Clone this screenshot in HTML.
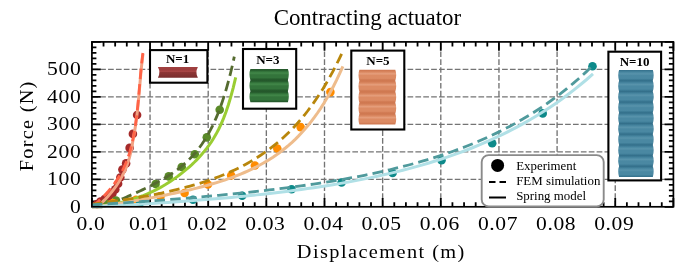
<!DOCTYPE html><html><head><meta charset="utf-8"><style>html,body{margin:0;padding:0;background:#fff}svg{display:block}</style></head><body>
<svg width="685" height="280" viewBox="0 0 685 280">
<rect width="685" height="280" fill="#fff"/>
<defs>
<linearGradient id="g1" x1="0" y1="0" x2="0" y2="1"><stop offset="0" stop-color="#a04040"/><stop offset="0.3" stop-color="#9c3c3c"/><stop offset="0.4" stop-color="#b04a4a"/><stop offset="0.5" stop-color="#8e3636"/><stop offset="1" stop-color="#7a2e2e"/></linearGradient>
<linearGradient id="g3" gradientUnits="userSpaceOnUse" x1="0" y1="69.1" x2="0" y2="80.167" spreadMethod="repeat"><stop offset="0" stop-color="#24572b"/><stop offset="0.1" stop-color="#265c2d"/><stop offset="0.22" stop-color="#33743b"/><stop offset="0.36" stop-color="#428849"/><stop offset="0.52" stop-color="#33743b"/><stop offset="0.78" stop-color="#33743b"/><stop offset="0.9" stop-color="#265c2d"/><stop offset="1" stop-color="#24572b"/></linearGradient>
<linearGradient id="g5" gradientUnits="userSpaceOnUse" x1="0" y1="69.8" x2="0" y2="80.760" spreadMethod="repeat"><stop offset="0" stop-color="#cf7850"/><stop offset="0.1" stop-color="#d27c55"/><stop offset="0.22" stop-color="#dc8b64"/><stop offset="0.36" stop-color="#e59e7c"/><stop offset="0.52" stop-color="#dc8b64"/><stop offset="0.78" stop-color="#dc8b64"/><stop offset="0.9" stop-color="#d27c55"/><stop offset="1" stop-color="#cf7850"/></linearGradient>
<linearGradient id="g10" gradientUnits="userSpaceOnUse" x1="0" y1="70" x2="0" y2="80.700" spreadMethod="repeat"><stop offset="0" stop-color="#336f8a"/><stop offset="0.1" stop-color="#3c7a95"/><stop offset="0.22" stop-color="#4a88a2"/><stop offset="0.36" stop-color="#5893ab"/><stop offset="0.52" stop-color="#4a88a2"/><stop offset="0.78" stop-color="#4a88a2"/><stop offset="0.9" stop-color="#3c7a95"/><stop offset="1" stop-color="#336f8a"/></linearGradient>
</defs>
<path d="M150.05,206.80 V41.9 M208.20,206.80 V41.9 M266.35,206.80 V41.9 M324.50,206.80 V41.9 M382.65,206.80 V41.9 M440.80,206.80 V41.9 M498.95,206.80 V41.9 M557.10,206.80 V41.9 M615.25,206.80 V41.9 M92.30,179.32 H673.4 M92.30,151.83 H673.4 M92.30,124.35 H673.4 M92.30,96.87 H673.4 M92.30,69.38 H673.4" stroke="#747474" stroke-width="1.35" stroke-dasharray="5.7 2.18" fill="none"/>
<path d="M91.90,206.80 v-8.8 M91.90,41.9 v8.8 M103.53,206.80 v-4.5 M103.53,41.9 v4.5 M115.16,206.80 v-4.5 M115.16,41.9 v4.5 M126.79,206.80 v-4.5 M126.79,41.9 v4.5 M138.42,206.80 v-4.5 M138.42,41.9 v4.5 M150.05,206.80 v-8.8 M150.05,41.9 v8.8 M161.68,206.80 v-4.5 M161.68,41.9 v4.5 M173.31,206.80 v-4.5 M173.31,41.9 v4.5 M184.94,206.80 v-4.5 M184.94,41.9 v4.5 M196.57,206.80 v-4.5 M196.57,41.9 v4.5 M208.20,206.80 v-8.8 M208.20,41.9 v8.8 M219.83,206.80 v-4.5 M219.83,41.9 v4.5 M231.46,206.80 v-4.5 M231.46,41.9 v4.5 M243.09,206.80 v-4.5 M243.09,41.9 v4.5 M254.72,206.80 v-4.5 M254.72,41.9 v4.5 M266.35,206.80 v-8.8 M266.35,41.9 v8.8 M277.98,206.80 v-4.5 M277.98,41.9 v4.5 M289.61,206.80 v-4.5 M289.61,41.9 v4.5 M301.24,206.80 v-4.5 M301.24,41.9 v4.5 M312.87,206.80 v-4.5 M312.87,41.9 v4.5 M324.50,206.80 v-8.8 M324.50,41.9 v8.8 M336.13,206.80 v-4.5 M336.13,41.9 v4.5 M347.76,206.80 v-4.5 M347.76,41.9 v4.5 M359.39,206.80 v-4.5 M359.39,41.9 v4.5 M371.02,206.80 v-4.5 M371.02,41.9 v4.5 M382.65,206.80 v-8.8 M382.65,41.9 v8.8 M394.28,206.80 v-4.5 M394.28,41.9 v4.5 M405.91,206.80 v-4.5 M405.91,41.9 v4.5 M417.54,206.80 v-4.5 M417.54,41.9 v4.5 M429.17,206.80 v-4.5 M429.17,41.9 v4.5 M440.80,206.80 v-8.8 M440.80,41.9 v8.8 M452.43,206.80 v-4.5 M452.43,41.9 v4.5 M464.06,206.80 v-4.5 M464.06,41.9 v4.5 M475.69,206.80 v-4.5 M475.69,41.9 v4.5 M487.32,206.80 v-4.5 M487.32,41.9 v4.5 M498.95,206.80 v-8.8 M498.95,41.9 v8.8 M510.58,206.80 v-4.5 M510.58,41.9 v4.5 M522.21,206.80 v-4.5 M522.21,41.9 v4.5 M533.84,206.80 v-4.5 M533.84,41.9 v4.5 M545.47,206.80 v-4.5 M545.47,41.9 v4.5 M557.10,206.80 v-8.8 M557.10,41.9 v8.8 M568.73,206.80 v-4.5 M568.73,41.9 v4.5 M580.36,206.80 v-4.5 M580.36,41.9 v4.5 M591.99,206.80 v-4.5 M591.99,41.9 v4.5 M603.62,206.80 v-4.5 M603.62,41.9 v4.5 M615.25,206.80 v-8.8 M615.25,41.9 v8.8 M626.88,206.80 v-4.5 M626.88,41.9 v4.5 M638.51,206.80 v-4.5 M638.51,41.9 v4.5 M650.14,206.80 v-4.5 M650.14,41.9 v4.5 M661.77,206.80 v-4.5 M661.77,41.9 v4.5 M673.40,206.80 v-8.8 M673.40,41.9 v8.8 M91.90,206.80 h8.8 M673.4,206.80 h-8.8 M91.90,201.30 h4.5 M673.4,201.30 h-4.5 M91.90,195.81 h4.5 M673.4,195.81 h-4.5 M91.90,190.31 h4.5 M673.4,190.31 h-4.5 M91.90,184.81 h4.5 M673.4,184.81 h-4.5 M91.90,179.32 h8.8 M673.4,179.32 h-8.8 M91.90,173.82 h4.5 M673.4,173.82 h-4.5 M91.90,168.32 h4.5 M673.4,168.32 h-4.5 M91.90,162.83 h4.5 M673.4,162.83 h-4.5 M91.90,157.33 h4.5 M673.4,157.33 h-4.5 M91.90,151.83 h8.8 M673.4,151.83 h-8.8 M91.90,146.34 h4.5 M673.4,146.34 h-4.5 M91.90,140.84 h4.5 M673.4,140.84 h-4.5 M91.90,135.34 h4.5 M673.4,135.34 h-4.5 M91.90,129.85 h4.5 M673.4,129.85 h-4.5 M91.90,124.35 h8.8 M673.4,124.35 h-8.8 M91.90,118.85 h4.5 M673.4,118.85 h-4.5 M91.90,113.36 h4.5 M673.4,113.36 h-4.5 M91.90,107.86 h4.5 M673.4,107.86 h-4.5 M91.90,102.36 h4.5 M673.4,102.36 h-4.5 M91.90,96.87 h8.8 M673.4,96.87 h-8.8 M91.90,91.37 h4.5 M673.4,91.37 h-4.5 M91.90,85.87 h4.5 M673.4,85.87 h-4.5 M91.90,80.38 h4.5 M673.4,80.38 h-4.5 M91.90,74.88 h4.5 M673.4,74.88 h-4.5 M91.90,69.38 h8.8 M673.4,69.38 h-8.8 M91.90,63.89 h4.5 M673.4,63.89 h-4.5 M91.90,58.39 h4.5 M673.4,58.39 h-4.5 M91.90,52.90 h4.5 M673.4,52.90 h-4.5 M91.90,47.40 h4.5 M673.4,47.40 h-4.5 M91.90,41.90 h8.8 M673.4,41.90 h-8.8" stroke="#000" stroke-width="1.8" fill="none"/>
<circle cx="137.1" cy="115" r="4.3" fill="#a52a2a"/>
<circle cx="132.9" cy="133.9" r="4.3" fill="#a52a2a"/>
<circle cx="129.6" cy="147.9" r="4.3" fill="#a52a2a"/>
<circle cx="126.1" cy="163.4" r="4.3" fill="#a52a2a"/>
<circle cx="122.4" cy="169.6" r="4.3" fill="#a52a2a"/>
<circle cx="120.3" cy="177.5" r="4.3" fill="#a52a2a"/>
<circle cx="118.1" cy="183.7" r="4.3" fill="#a52a2a"/>
<circle cx="115.3" cy="189.4" r="4.3" fill="#a52a2a"/>
<circle cx="112.4" cy="193.7" r="4.3" fill="#a52a2a"/>
<circle cx="108.5" cy="196.5" r="4.3" fill="#a52a2a"/>
<circle cx="104.6" cy="199" r="4.3" fill="#a52a2a"/>
<circle cx="100.5" cy="201.5" r="4.3" fill="#a52a2a"/>
<circle cx="97" cy="204" r="4.3" fill="#a52a2a"/>
<circle cx="219.7" cy="109.79535094392885" r="4.3" fill="#5a8a28"/>
<circle cx="206.8" cy="137.34466367512033" r="4.3" fill="#5a8a28"/>
<circle cx="194.8" cy="154.1755076439973" r="4.3" fill="#5a8a28"/>
<circle cx="181.7" cy="166.99113911707795" r="4.3" fill="#5a8a28"/>
<circle cx="168.7" cy="176.41450536956467" r="4.3" fill="#5a8a28"/>
<circle cx="155.6" cy="184.03783054012635" r="4.3" fill="#5a8a28"/>
<circle cx="116" cy="200.5" r="4.3" fill="#5a8a28"/>
<circle cx="105" cy="203" r="4.3" fill="#5a8a28"/>
<circle cx="330.4" cy="92.1" r="4.3" fill="#ff8c00"/>
<circle cx="300.6" cy="127.1" r="4.3" fill="#ff8c00"/>
<circle cx="277.3" cy="148.5" r="4.3" fill="#ff8c00"/>
<circle cx="254.9" cy="165.5" r="4.3" fill="#ff8c00"/>
<circle cx="231.2" cy="175.5" r="4.3" fill="#ff8c00"/>
<circle cx="207.9" cy="184.5" r="4.3" fill="#ff8c00"/>
<circle cx="184.6" cy="193" r="4.3" fill="#ff8c00"/>
<circle cx="160.5" cy="196.2" r="4.3" fill="#ff8c00"/>
<circle cx="136" cy="199.8" r="4.3" fill="#ff8c00"/>
<circle cx="113" cy="203" r="4.3" fill="#ff8c00"/>
<circle cx="592.5" cy="66.3" r="4.3" fill="#0d8a8a"/>
<circle cx="542.7" cy="113.4" r="4.3" fill="#0d8a8a"/>
<circle cx="492.2" cy="143.2" r="4.3" fill="#0d8a8a"/>
<circle cx="441.5" cy="160.2" r="4.3" fill="#0d8a8a"/>
<circle cx="392.6" cy="173" r="4.3" fill="#0d8a8a"/>
<circle cx="341.6" cy="182.5" r="4.3" fill="#0d8a8a"/>
<circle cx="291.6" cy="189.2" r="4.3" fill="#0d8a8a"/>
<circle cx="242.2" cy="195.8" r="4.3" fill="#0d8a8a"/>
<circle cx="193" cy="199.8" r="4.3" fill="#0d8a8a"/>
<circle cx="140.5" cy="202.3" r="4.3" fill="#0d8a8a"/>
<path d="M97.36,206.80 L100.22,204.21 L102.92,201.62 L105.47,199.03 L107.87,196.44 L110.13,193.85 L112.25,191.26 L114.24,188.67 L116.10,186.08 L117.83,183.49 L119.45,180.90 L120.95,178.31 L122.34,175.72 L123.63,173.13 L124.82,170.54 L125.91,167.95 L126.91,165.36 L127.83,162.77 L128.67,160.18 L129.43,157.59 L130.12,155.00 L130.74,152.41 L131.31,149.82 L131.82,147.23 L132.27,144.64 L132.68,142.05 L133.09,139.46 L133.60,136.87 L134.09,134.28 L134.55,131.69 L134.98,129.11 L135.39,126.52 L135.78,123.93 L136.14,121.34 L136.48,118.75 L136.81,116.16 L137.12,113.57 L137.41,110.98 L137.69,108.39 L137.96,105.80 L138.22,103.21 L138.46,100.62 L138.70,98.03 L138.93,95.44 L139.16,92.85 L139.38,90.26 L139.61,87.67 L139.83,85.08 L140.05,82.49 L140.27,79.90 L140.50,77.31 L140.73,74.72 L140.97,72.13 L141.22,69.54 L141.48,66.95 L141.75,64.36 L142.03,61.77 L142.33,59.18 L142.64,56.59 L142.97,54.00" stroke="#f2a283" stroke-width="3" fill="none"/>
<path d="M92.27,206.80 L95.33,204.19 L98.24,201.59 L101.00,198.98 L103.60,196.37 L106.06,193.77 L108.38,191.16 L110.56,188.55 L112.62,185.95 L114.55,183.34 L116.36,180.73 L118.05,178.13 L119.64,175.52 L121.12,172.91 L122.50,170.31 L123.78,167.70 L124.97,165.09 L126.08,162.48 L127.10,159.88 L128.05,157.27 L128.93,154.66 L129.74,152.06 L130.49,149.45 L131.19,146.84 L131.83,144.24 L132.42,141.63 L132.98,139.02 L133.49,136.42 L133.98,133.81 L134.43,131.20 L134.86,128.60 L135.27,125.99 L135.65,123.38 L136.02,120.78 L136.36,118.17 L136.68,115.56 L136.99,112.96 L137.28,110.35 L137.56,107.74 L137.83,105.14 L138.08,102.53 L138.33,99.92 L138.57,97.32 L138.80,94.71 L139.02,92.10 L139.25,89.49 L139.47,86.89 L139.69,84.28 L139.92,81.67 L140.14,79.07 L140.38,76.46 L140.61,73.85 L140.86,71.25 L141.11,68.64 L141.37,66.03 L141.65,63.43 L141.94,60.82 L142.24,58.21 L142.56,55.61 L142.90,53.00" stroke="#ff6347" stroke-width="2.8" fill="none" stroke-dasharray="10.5 5.2"/>
<path d="M92.00,206.78 L94.44,206.56 L96.87,206.33 L99.31,206.07 L101.74,205.78 L104.18,205.47 L106.61,205.12 L109.05,204.75 L111.48,204.34 L113.92,203.90 L116.36,203.43 L118.79,202.92 L121.23,202.38 L123.66,201.80 L126.10,201.17 L128.53,200.51 L130.97,199.80 L133.41,199.05 L135.84,198.26 L138.28,197.42 L140.71,196.53 L143.15,195.60 L145.58,194.61 L148.02,193.57 L150.45,192.48 L152.89,191.34 L155.33,190.14 L157.76,188.88 L160.20,187.57 L162.63,186.19 L165.07,184.76 L167.50,183.26 L169.94,181.70 L172.37,180.08 L174.81,178.38 L177.25,176.63 L179.68,174.80 L182.12,172.90 L184.55,170.93 L186.99,168.89 L189.42,166.78 L191.86,164.57 L194.29,162.26 L196.73,159.83 L199.17,157.27 L201.60,154.55 L204.04,151.66 L206.47,148.59 L208.91,145.33 L211.34,141.83 L213.78,138.04 L216.22,133.87 L218.65,129.26 L221.09,124.11 L223.52,118.36 L225.96,111.91 L228.39,104.68 L230.83,96.59 L233.26,87.54 L235.70,77.46" stroke="#9acd32" stroke-width="3" fill="none"/>
<path d="M91.90,206.80 L93.70,206.80 L95.51,206.80 L97.31,206.80 L99.11,206.80 L100.91,206.80 L102.72,206.80 L104.52,206.29 L106.32,205.55 L108.12,204.81 L109.93,204.06 L111.73,203.31 L113.53,202.56 L115.33,201.80 L117.14,201.04 L118.94,200.28 L120.74,199.51 L122.54,198.74 L124.35,197.97 L126.15,197.19 L127.95,196.40 L129.75,195.61 L131.56,194.81 L133.36,194.01 L135.16,193.20 L136.96,192.38 L138.77,191.55 L140.57,190.71 L142.37,189.86 L144.17,189.00 L145.98,188.13 L147.78,187.25 L149.58,186.35 L151.38,185.44 L153.19,184.51 L154.99,183.56 L156.79,182.60 L158.59,181.61 L160.40,180.60 L162.20,179.57 L164.00,178.51 L165.80,177.43 L167.61,176.31 L169.41,175.16 L171.21,173.97 L173.01,172.75 L174.82,171.48 L176.62,170.17 L178.42,168.81 L180.22,167.39 L182.03,165.92 L183.83,164.39 L185.63,162.78 L187.43,161.11 L189.24,159.36 L191.04,157.52 L192.84,155.59 L194.64,153.56 L196.45,151.42 L198.25,149.16 L200.05,146.78 L201.85,144.26 L203.66,141.59 L205.46,138.76 L207.26,135.76 L209.06,132.57 L210.87,129.17 L212.67,125.56 L214.47,121.71 L216.27,117.59 L218.08,113.21 L219.88,108.51 L221.68,103.49 L223.48,98.12 L225.29,92.37 L227.09,86.20 L228.89,79.58 L230.69,72.48 L232.50,64.85 L234.30,56.65" stroke="#556b2f" stroke-width="2.8" fill="none" stroke-dasharray="10.5 5.2"/>
<path d="M91.90,206.80 L95.08,206.80 L98.25,206.69 L101.43,206.19 L104.61,205.69 L107.79,205.19 L110.96,204.68 L114.14,204.17 L117.32,203.66 L120.49,203.14 L123.67,202.61 L126.85,202.08 L130.03,201.55 L133.20,201.01 L136.38,200.46 L139.56,199.91 L142.74,199.34 L145.91,198.78 L149.09,198.20 L152.27,197.61 L155.44,197.02 L158.62,196.42 L161.80,195.80 L164.98,195.17 L168.15,194.54 L171.33,193.89 L174.51,193.22 L177.68,192.54 L180.86,191.85 L184.04,191.14 L187.22,190.41 L190.39,189.67 L193.57,188.90 L196.75,188.11 L199.93,187.30 L203.10,186.47 L206.28,185.61 L209.46,184.72 L212.63,183.80 L215.81,182.85 L218.99,181.87 L222.17,180.85 L225.34,179.80 L228.52,178.70 L231.70,177.56 L234.87,176.37 L238.05,175.14 L241.23,173.85 L244.41,172.50 L247.58,171.10 L250.76,169.63 L253.94,168.09 L257.12,166.48 L260.29,164.79 L263.47,163.02 L266.65,161.16 L269.82,159.20 L273.00,157.15 L276.18,154.98 L279.36,152.71 L282.53,150.30 L285.71,147.77 L288.89,145.10 L292.06,142.28 L295.24,139.30 L298.42,136.15 L301.60,132.82 L304.77,129.30 L307.95,125.57 L311.13,121.62 L314.31,117.44 L317.48,113.01 L320.66,108.31 L323.84,103.32 L327.01,98.03 L330.19,92.42 L333.37,86.46 L336.55,80.14 L339.72,73.41 L342.90,66.27" stroke="#eebc8c" stroke-width="3" fill="none"/>
<path d="M91.90,204.32 L95.07,203.91 L98.24,203.49 L101.41,203.07 L104.58,202.63 L107.75,202.19 L110.92,201.74 L114.09,201.29 L117.26,200.82 L120.43,200.34 L123.60,199.86 L126.77,199.36 L129.94,198.85 L133.11,198.33 L136.27,197.80 L139.44,197.25 L142.61,196.69 L145.78,196.12 L148.95,195.53 L152.12,194.92 L155.29,194.30 L158.46,193.66 L161.63,193.01 L164.80,192.33 L167.97,191.64 L171.14,190.92 L174.31,190.18 L177.48,189.41 L180.65,188.63 L183.82,187.81 L186.99,186.97 L190.16,186.10 L193.33,185.20 L196.50,184.27 L199.67,183.30 L202.84,182.30 L206.01,181.26 L209.18,180.19 L212.35,179.07 L215.52,177.91 L218.68,176.71 L221.85,175.46 L225.02,174.16 L228.19,172.80 L231.36,171.40 L234.53,169.93 L237.70,168.41 L240.87,166.82 L244.04,165.16 L247.21,163.44 L250.38,161.64 L253.55,159.76 L256.72,157.80 L259.89,155.76 L263.06,153.62 L266.23,151.39 L269.40,149.07 L272.57,146.63 L275.74,144.09 L278.91,141.44 L282.08,138.66 L285.25,135.75 L288.42,132.71 L291.59,129.53 L294.76,126.20 L297.93,122.72 L301.09,119.07 L304.26,115.26 L307.43,111.26 L310.60,107.07 L313.77,102.68 L316.94,98.09 L320.11,93.27 L323.28,88.22 L326.45,82.93 L329.62,77.39 L332.79,71.58 L335.96,65.48 L339.13,59.09 L342.30,52.39" stroke="#b8860b" stroke-width="2.8" fill="none" stroke-dasharray="10.5 5.2"/>
<path d="M91.90,206.73 L98.24,206.42 L104.59,206.11 L110.93,205.78 L117.27,205.45 L123.62,205.11 L129.96,204.75 L136.30,204.39 L142.64,204.02 L148.99,203.63 L155.33,203.24 L161.67,202.83 L168.02,202.41 L174.36,201.98 L180.70,201.53 L187.05,201.07 L193.39,200.60 L199.73,200.11 L206.07,199.60 L212.42,199.08 L218.76,198.54 L225.10,197.98 L231.45,197.40 L237.79,196.80 L244.13,196.18 L250.48,195.54 L256.82,194.88 L263.16,194.19 L269.51,193.47 L275.85,192.74 L282.19,191.97 L288.53,191.18 L294.88,190.35 L301.22,189.50 L307.56,188.61 L313.91,187.69 L320.25,186.73 L326.59,185.74 L332.94,184.70 L339.28,183.63 L345.62,182.52 L351.96,181.36 L358.31,180.15 L364.65,178.90 L370.99,177.60 L377.34,176.24 L383.68,174.83 L390.02,173.36 L396.37,171.84 L402.71,170.25 L409.05,168.59 L415.39,166.87 L421.74,165.08 L428.08,163.21 L434.42,161.27 L440.77,159.24 L447.11,157.13 L453.45,154.93 L459.80,152.64 L466.14,150.25 L472.48,147.76 L478.83,145.17 L485.17,142.47 L491.51,139.65 L497.85,136.71 L504.20,133.64 L510.54,130.45 L516.88,127.12 L523.23,123.64 L529.57,120.02 L535.91,116.24 L542.26,112.30 L548.60,108.19 L554.94,103.90 L561.28,99.42 L567.63,94.75 L573.97,89.88 L580.31,84.79 L586.66,79.49 L593.00,73.95" stroke="#b0e0e6" stroke-width="3" fill="none"/>
<path d="M91.90,204.87 L98.24,204.48 L104.57,204.08 L110.91,203.67 L117.25,203.25 L123.58,202.83 L129.92,202.40 L136.26,201.96 L142.59,201.51 L148.93,201.05 L155.27,200.59 L161.60,200.11 L167.94,199.63 L174.28,199.13 L180.61,198.63 L186.95,198.11 L193.29,197.58 L199.62,197.03 L205.96,196.47 L212.30,195.90 L218.63,195.32 L224.97,194.71 L231.31,194.09 L237.64,193.46 L243.98,192.80 L250.32,192.12 L256.65,191.43 L262.99,190.71 L269.33,189.97 L275.66,189.21 L282.00,188.42 L288.34,187.61 L294.67,186.77 L301.01,185.90 L307.35,185.00 L313.68,184.07 L320.02,183.10 L326.36,182.10 L332.69,181.07 L339.03,179.99 L345.37,178.88 L351.71,177.72 L358.04,176.52 L364.38,175.27 L370.72,173.97 L377.05,172.62 L383.39,171.21 L389.73,169.75 L396.06,168.23 L402.40,166.64 L408.74,164.99 L415.07,163.26 L421.41,161.47 L427.75,159.59 L434.08,157.64 L440.42,155.60 L446.76,153.47 L453.09,151.25 L459.43,148.93 L465.77,146.50 L472.10,143.97 L478.44,141.32 L484.78,138.55 L491.11,135.66 L497.45,132.63 L503.79,129.47 L510.12,126.15 L516.46,122.69 L522.80,119.06 L529.13,115.26 L535.47,111.28 L541.81,107.12 L548.14,102.76 L554.48,98.19 L560.82,93.40 L567.15,88.39 L573.49,83.13 L579.83,77.63 L586.16,71.86 L592.50,65.81" stroke="#4f9a9c" stroke-width="2.8" fill="none" stroke-dasharray="10.5 5.2"/>
<rect x="91.9" y="41.9" width="581.50" height="164.90" fill="none" stroke="#000" stroke-width="1.7"/>
<rect x="150" y="50.1" width="57.40" height="32.60" fill="#fff" stroke="#000" stroke-width="2.1"/>
<text x="177.55" y="62.6" font-family="Liberation Serif" font-weight="bold" font-size="13" text-anchor="middle">N=1</text>
<rect x="243" y="49" width="53.20" height="59.70" fill="#fff" stroke="#000" stroke-width="2.1"/>
<text x="267.85" y="63.7" font-family="Liberation Serif" font-weight="bold" font-size="13" text-anchor="middle">N=3</text>
<rect x="351.3" y="50.6" width="53.00" height="78.90" fill="#fff" stroke="#000" stroke-width="2.1"/>
<text x="377.9" y="65.3" font-family="Liberation Serif" font-weight="bold" font-size="13" text-anchor="middle">N=5</text>
<rect x="608.4" y="51.7" width="52.70" height="128.70" fill="#fff" stroke="#000" stroke-width="2.1"/>
<text x="634.6" y="65.5" font-family="Liberation Serif" font-weight="bold" font-size="13" text-anchor="middle">N=10</text>
<path d="M157.9,66.9 H197.9 Q194.9,72.3 197.9,77.7 H157.9 Q160.9,72.3 157.9,66.9Z" fill="url(#g1)"/>
<path d="M250.40,69.10 H287.90 Q289.70,74.08 287.90,80.17 Q289.70,85.15 287.90,91.23 Q289.70,96.21 287.90,102.30 H250.40 Q248.60,96.21 250.40,91.23 Q248.60,85.15 250.40,80.17 Q248.60,74.08 250.40,69.10Z" fill="url(#g3)"/>
<path d="M359.40,69.80 H395.30 Q397.10,74.73 395.30,80.76 Q397.10,85.69 395.30,91.72 Q397.10,96.65 395.30,102.68 Q397.10,107.61 395.30,113.64 Q397.10,118.57 395.30,124.60 H359.40 Q357.60,118.57 359.40,113.64 Q357.60,107.61 359.40,102.68 Q357.60,96.65 359.40,91.72 Q357.60,85.69 359.40,80.76 Q357.60,74.73 359.40,69.80Z" fill="url(#g5)"/>
<path d="M619.10,70.00 H652.80 Q654.60,74.81 652.80,80.70 Q654.60,85.52 652.80,91.40 Q654.60,96.22 652.80,102.10 Q654.60,106.91 652.80,112.80 Q654.60,117.61 652.80,123.50 Q654.60,128.31 652.80,134.20 Q654.60,139.01 652.80,144.90 Q654.60,149.71 652.80,155.60 Q654.60,160.41 652.80,166.30 Q654.60,171.12 652.80,177.00 H619.10 Q617.30,171.12 619.10,166.30 Q617.30,160.41 619.10,155.60 Q617.30,149.71 619.10,144.90 Q617.30,139.01 619.10,134.20 Q617.30,128.31 619.10,123.50 Q617.30,117.61 619.10,112.80 Q617.30,106.91 619.10,102.10 Q617.30,96.22 619.10,91.40 Q617.30,85.52 619.10,80.70 Q617.30,74.81 619.10,70.00Z" fill="url(#g10)"/>
<rect x="481.7" y="155.1" width="122" height="51.4" rx="7" ry="7" fill="#fff" stroke="#8a8a8a" stroke-width="1.9"/>
<circle cx="497.6" cy="165.4" r="6.5" fill="#000"/>
<path d="M489,182 h17" stroke="#000" stroke-width="2" stroke-dasharray="6.5 4"/>
<path d="M489,197.5 h17" stroke="#000" stroke-width="2"/>
<text x="516.2" y="169.8" font-family="Liberation Serif" font-size="12.9">Experiment</text>
<text x="516.2" y="185" font-family="Liberation Serif" font-size="12.9">FEM simulation</text>
<text x="516.2" y="200.2" font-family="Liberation Serif" font-size="12.9">Spring model</text>
<text transform="translate(81.5,212.90) scale(1.2,1)" text-anchor="end" letter-spacing="0.55" font-family="Liberation Serif" font-size="18">0</text>
<text transform="translate(81.5,185.42) scale(1.2,1)" text-anchor="end" letter-spacing="0.55" font-family="Liberation Serif" font-size="18">100</text>
<text transform="translate(81.5,157.93) scale(1.2,1)" text-anchor="end" letter-spacing="0.55" font-family="Liberation Serif" font-size="18">200</text>
<text transform="translate(81.5,130.45) scale(1.2,1)" text-anchor="end" letter-spacing="0.55" font-family="Liberation Serif" font-size="18">300</text>
<text transform="translate(81.5,102.97) scale(1.2,1)" text-anchor="end" letter-spacing="0.55" font-family="Liberation Serif" font-size="18">400</text>
<text transform="translate(81.5,75.48) scale(1.2,1)" text-anchor="end" letter-spacing="0.55" font-family="Liberation Serif" font-size="18">500</text>
<text transform="translate(90.90,229.7) scale(1.18,1)" text-anchor="middle" letter-spacing="0.5" font-family="Liberation Serif" font-size="18.3">0.0</text>
<text transform="translate(149.05,229.7) scale(1.18,1)" text-anchor="middle" letter-spacing="0.5" font-family="Liberation Serif" font-size="18.3">0.01</text>
<text transform="translate(207.20,229.7) scale(1.18,1)" text-anchor="middle" letter-spacing="0.5" font-family="Liberation Serif" font-size="18.3">0.02</text>
<text transform="translate(265.35,229.7) scale(1.18,1)" text-anchor="middle" letter-spacing="0.5" font-family="Liberation Serif" font-size="18.3">0.03</text>
<text transform="translate(323.50,229.7) scale(1.18,1)" text-anchor="middle" letter-spacing="0.5" font-family="Liberation Serif" font-size="18.3">0.04</text>
<text transform="translate(381.65,229.7) scale(1.18,1)" text-anchor="middle" letter-spacing="0.5" font-family="Liberation Serif" font-size="18.3">0.05</text>
<text transform="translate(439.80,229.7) scale(1.18,1)" text-anchor="middle" letter-spacing="0.5" font-family="Liberation Serif" font-size="18.3">0.06</text>
<text transform="translate(497.95,229.7) scale(1.18,1)" text-anchor="middle" letter-spacing="0.5" font-family="Liberation Serif" font-size="18.3">0.07</text>
<text transform="translate(556.10,229.7) scale(1.18,1)" text-anchor="middle" letter-spacing="0.5" font-family="Liberation Serif" font-size="18.3">0.08</text>
<text transform="translate(614.25,229.7) scale(1.18,1)" text-anchor="middle" letter-spacing="0.5" font-family="Liberation Serif" font-size="18.3">0.09</text>
<text transform="translate(381.3,258.4) scale(1.1,1)" text-anchor="middle" letter-spacing="1.29" font-family="Liberation Serif" font-size="18.5">Displacement (m)</text>
<text transform="translate(33,125.8) rotate(-90) scale(1.1,1)" text-anchor="middle" letter-spacing="1.13" font-family="Liberation Serif" font-size="18.5">Force (N)</text>
<text x="367.4" y="24.9" text-anchor="middle" font-family="Liberation Serif" font-size="22.9">Contracting actuator</text>
</svg></body></html>
